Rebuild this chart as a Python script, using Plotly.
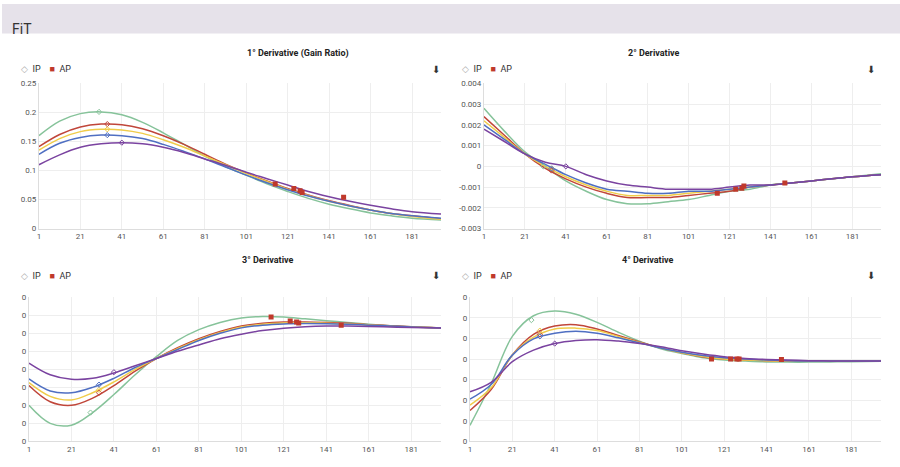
import plotly.graph_objects as go

W, H = 900, 467
x = [1, 11, 21, 31, 41, 51, 61, 71, 81, 91, 101, 111, 121, 131, 141, 151, 161, 171, 181, 195]
names = ["green", "red", "yellow", "blue", "purple"]
colors = ["#86c39a", "#c0463a", "#f0cc4a", "#4f6fc2", "#7a43a0"]

d1 = {
 "green": [0.16,0.185,0.198,0.201,0.196,0.183,0.165,0.145,0.125,0.107,0.092,0.077,0.064,0.052,0.042,0.034,0.027,0.022,0.018,0.015],
 "red": [0.141,0.162,0.175,0.18,0.179,0.172,0.16,0.145,0.128,0.111,0.096,0.082,0.069,0.058,0.048,0.040,0.032,0.026,0.022,0.017],
 "yellow": [0.135,0.155,0.167,0.171,0.170,0.164,0.153,0.140,0.125,0.110,0.095,0.081,0.068,0.057,0.047,0.039,0.032,0.026,0.021,0.016],
 "blue": [0.128,0.147,0.157,0.161,0.160,0.155,0.145,0.133,0.120,0.106,0.092,0.079,0.067,0.056,0.047,0.039,0.032,0.026,0.022,0.018],
 "purple": [0.11,0.127,0.140,0.146,0.148,0.146,0.140,0.131,0.120,0.109,0.097,0.086,0.075,0.064,0.055,0.047,0.040,0.034,0.029,0.025],
}
d2 = {
 "green": [0.0028,0.0017,0.0007,0.0000,-0.0007,-0.0012,-0.0016,-0.0018,-0.0018,-0.0017,-0.0016,-0.0014,-0.0012,-0.0011,-0.0009,-0.0008,-0.0007,-0.0006,-0.0005,-0.00035],
 "red": [0.0024,0.0015,0.0006,-0.0001,-0.0006,-0.0010,-0.0013,-0.0015,-0.0015,-0.0015,-0.0014,-0.0013,-0.0012,-0.0010,-0.0009,-0.0008,-0.0007,-0.0006,-0.0005,-0.0004],
 "yellow": [0.0022,0.0014,0.0006,0.0000,-0.0005,-0.0009,-0.0012,-0.0014,-0.0014,-0.0014,-0.0013,-0.0012,-0.0011,-0.0010,-0.0009,-0.0008,-0.0007,-0.0006,-0.0005,-0.0004],
 "blue": [0.0020,0.0013,0.0006,0.0001,-0.0004,-0.0008,-0.0011,-0.0012,-0.0013,-0.0013,-0.0012,-0.0012,-0.0011,-0.0010,-0.0009,-0.0008,-0.0007,-0.0006,-0.0005,-0.0004],
 "purple": [0.0018,0.0012,0.0006,0.0002,0.0000,-0.0004,-0.0007,-0.0009,-0.0010,-0.0011,-0.0011,-0.0011,-0.0010,-0.0009,-0.0009,-0.0008,-0.0007,-0.0006,-0.0005,-0.0004],
}
d3 = {
 "green": [-2.0,-3.0,-3.1,-2.4,-1.4,-0.3,0.7,1.6,2.2,2.6,2.85,2.93,2.9,2.8,2.7,2.6,2.5,2.42,2.36,2.3],
 "red": [-0.9,-1.8,-2.0,-1.6,-0.9,-0.1,0.6,1.2,1.7,2.1,2.4,2.55,2.62,2.63,2.6,2.55,2.48,2.42,2.36,2.3],
 "yellow": [-0.74,-1.5,-1.7,-1.3,-0.7,0.0,0.6,1.15,1.65,2.05,2.35,2.5,2.57,2.58,2.56,2.52,2.46,2.4,2.35,2.3],
 "blue": [-0.53,-1.2,-1.3,-1.0,-0.5,0.1,0.6,1.1,1.6,2.0,2.3,2.45,2.52,2.54,2.53,2.5,2.45,2.4,2.35,2.3],
 "purple": [0.35,-0.3,-0.55,-0.5,-0.2,0.2,0.6,1.0,1.35,1.7,1.95,2.15,2.28,2.36,2.4,2.4,2.38,2.35,2.32,2.3],
}
d4 = {
 "green": [-2.22,-0.2,2.1,3.1,3.33,3.17,2.78,2.3,1.86,1.5,1.27,1.06,0.95,0.9,0.86,0.85,0.85,0.86,0.87,0.89],
 "red": [-1.5,-0.48,1.2,2.2,2.6,2.67,2.46,2.14,1.83,1.54,1.3,1.1,1.0,0.95,0.92,0.9,0.9,0.9,0.9,0.9],
 "yellow": [-1.24,-0.4,1.2,2.06,2.46,2.5,2.38,2.1,1.8,1.54,1.3,1.12,1.0,0.95,0.92,0.9,0.9,0.9,0.9,0.9],
 "blue": [-0.95,-0.24,1.19,1.98,2.25,2.35,2.25,2.03,1.78,1.54,1.33,1.17,1.06,1.0,0.95,0.92,0.9,0.9,0.9,0.9],
 "purple": [-0.59,-0.13,0.87,1.43,1.75,1.9,1.94,1.87,1.75,1.6,1.4,1.24,1.11,1.03,0.98,0.95,0.92,0.91,0.9,0.9],
}
ip_x = [30, 34, 34, 34, 41]
ip1 = [0.201, 0.18, 0.171, 0.161, 0.148]
ip2 = [0.0, -0.0002, -0.0001, -0.0001, 0.0]
ip3 = [-2.4, -1.3, -1.14, -0.85, -0.16]
ip4 = [2.89, 2.2, 2.38, 2.1, 1.75]
ap_x = [115, 124, 127, 128, 148]
ap1 = [0.077, 0.069, 0.065, 0.062, 0.054]
ap2 = [-0.0013, -0.0011, -0.00105, -0.00095, -0.0008]
ap3 = [2.9, 2.68, 2.62, 2.57, 2.45]
ap4 = [1.0, 1.0, 1.0, 1.0, 0.98]
titles = ["1° Derivative (Gain Ratio)", "2° Derivative", "3° Derivative", "4° Derivative"]

boxes = [(37, 440, 81, 229), (483, 881, 81, 229), (27, 440, 299, 446), (469, 881, 299, 446)]
datasets = [d1, d2, d3, d4]
ips = [ip1, ip2, ip3, ip4]
aps = [ap1, ap2, ap3, ap4]

fig = go.Figure()
for i, (box, data, ipy, apy) in enumerate(zip(boxes, datasets, ips, aps)):
    n = "" if i == 0 else str(i + 1)
    xa, ya = "x" + n, "y" + n
    for nm, c in zip(names, colors):
        fig.add_trace(go.Scatter(x=x, y=data[nm], mode="lines", line=dict(color=c, width=1.5, shape="spline"),
                                 xaxis=xa, yaxis=ya, showlegend=False))
    fig.add_trace(go.Scatter(x=ip_x, y=ipy, mode="markers", xaxis=xa, yaxis=ya, showlegend=False,
                             marker=dict(symbol="diamond-open", size=4, color=colors)))
    fig.add_trace(go.Scatter(x=ap_x, y=apy, mode="markers", xaxis=xa, yaxis=ya, showlegend=False,
                             marker=dict(symbol="square", size=5, color="#c0392b")))
    x0, x1, yt, yb = box
    ax = dict(domain=[x0 / W, x1 / W], range=[1, 195], tickvals=list(range(1, 182, 20)),
              showgrid=True, gridcolor="#eeeeee", zeroline=False, showline=True, linecolor="#dddddd",
              tickfont=dict(size=8, color="#555"), anchor=ya, fixedrange=True, ticks="")
    ayd = dict(domain=[1 - yb / H, 1 - yt / H], showgrid=True, gridcolor="#eeeeee", zeroline=False,
               showline=True, linecolor="#dddddd", tickfont=dict(size=8, color="#555"), anchor=xa, ticks="")
    if i == 0:
        ayd.update(range=[0, 0.25], tickvals=[0, 0.05, 0.1, 0.15, 0.2, 0.25])
    elif i == 1:
        ayd.update(range=[-0.003, 0.004], tickvals=[-0.003, -0.002, -0.001, 0, 0.001, 0.002, 0.003, 0.004],
                   ticktext=["-0.003", "-0.002", "-0.001", "0", "0.001", "0.002", "0.003", "0.004"])
    elif i == 2:
        tv = [-4, -3, -2, -1, 0, 1, 2, 3, 4]
        ayd.update(range=[-4, 4], tickvals=tv, ticktext=["0"] * len(tv))
    else:
        tv = [-3, -2, -1, 0, 1, 2, 3, 4]
        ayd.update(range=[-3, 4], tickvals=tv, ticktext=["0"] * len(tv))
    fig.layout["xaxis" + n] = ax
    fig.layout["yaxis" + n] = ayd
    cx = ((x0 + x1) / 2 + (5 if i % 2 == 0 else 0)) / W
    fig.add_annotation(text="<b>" + titles[i] + "</b>", x=cx, y=1 - (yt - 38) / H, xref="paper", yref="paper",
                       showarrow=False, font=dict(size=9, color="#222"))
    lx = (17 if i % 2 == 0 else 459) / W
    fig.add_annotation(text='<span style="color:#aaa">◇</span>  IP    <span style="color:#c0392b">■</span>  AP',
                       x=lx, y=1 - (yt - 22) / H, xref="paper", yref="paper", xanchor="left",
                       showarrow=False, font=dict(size=9, color="#333"))
    dx = (435 if i % 2 == 0 else 877) / W
    fig.add_annotation(text="⬇", x=dx, y=1 - (yt - 22) / H, xref="paper", yref="paper",
                       showarrow=False, font=dict(size=10, color="#333"))

fig.add_shape(type="rect", xref="paper", yref="paper", x0=0, x1=1, y0=1 - 30 / H, y1=1,
              fillcolor="#e6e2ea", line=dict(width=0), layer="below")
fig.add_annotation(text="FiT", x=8 / W, y=1 - 15 / H, xref="paper", yref="paper", xanchor="left",
                   showarrow=False, font=dict(size=14, color="#333"))

fig.update_layout(width=W, height=H, margin=dict(l=0, r=0, t=0, b=0), plot_bgcolor="white",
                  paper_bgcolor="white", font=dict(family="Roboto"))
fig.write_html("out.html", config={"displayModeBar": False})
with open("out.html", encoding="utf-8") as f:
    html = f.read()
html = html.replace("<body>", '<body style="margin:0;overflow:hidden">', 1)
with open("out.html", "w", encoding="utf-8") as f:
    f.write(html)
